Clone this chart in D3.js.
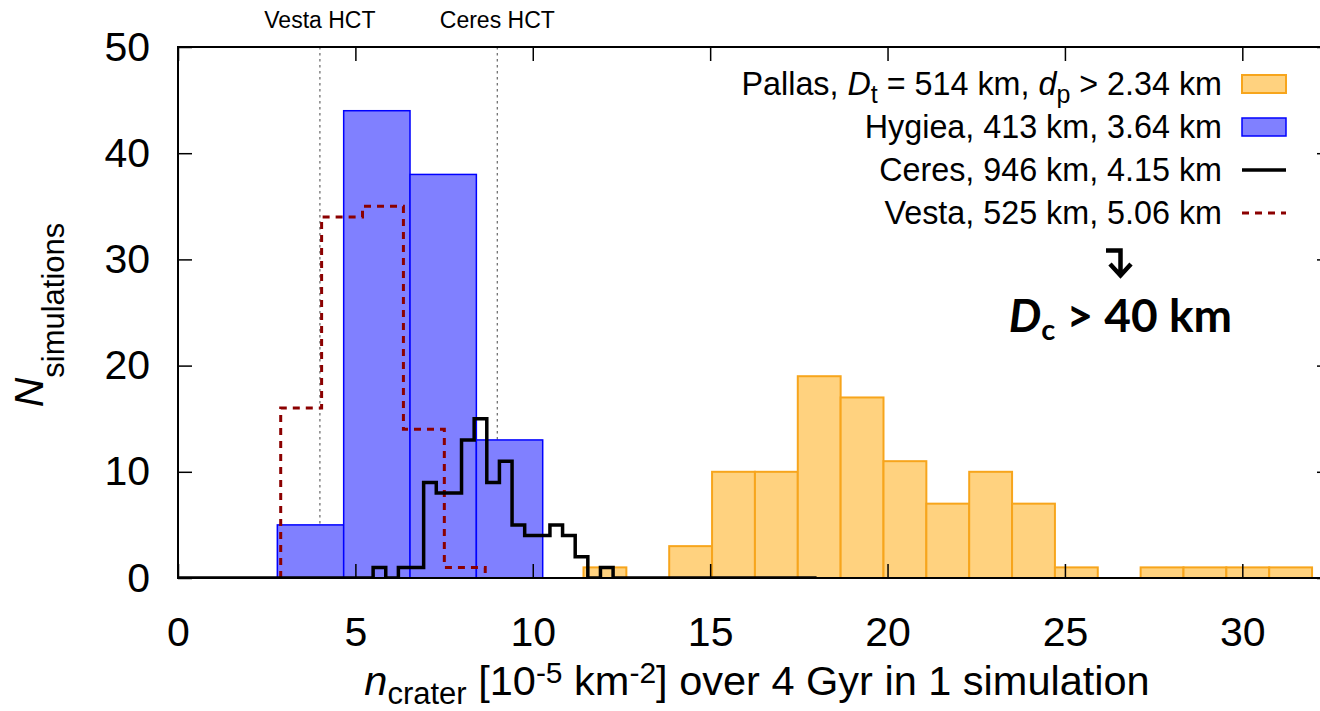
<!DOCTYPE html>
<html>
<head>
<meta charset="utf-8">
<script src="https://cdn.jsdelivr.net/npm/d3@7"></script>
<style>
  html, body { margin: 0; padding: 0; background: #fff; }
  svg { display: block; }
  text { font-family: "Liberation Sans", Arial, Helvetica, sans-serif; fill: #000; }
  text.note { font-family: Lato, "Open Sans", sans-serif; font-weight: bold; }
</style>
</head>
<body>
<svg id="chart" width="1320" height="711"></svg>
<script>
// Axis ticks
const xTicks = [0, 5, 10, 15, 20, 25, 30];
const yTicks = [0, 10, 20, 30, 40, 50];

// Pallas histogram (filled orange bars)
const pallasStart = 11.43;
const pallasWidth = 1.208;
const pallasCounts = [1, 0, 3, 10, 10, 19, 17, 11, 7, 10, 7, 1, 0, 1, 1, 1, 1];

// Hygiea histogram (filled blue bars)
const hygieaStart = 2.80;
const hygieaWidth = 1.87;
const hygieaCounts = [5, 44, 38, 13];

// Ceres histogram (black steps)
const ceresStart = 5.50;
const ceresWidth = 0.356;
const ceresCounts = [1, 0, 1, 1, 9, 8, 8, 13, 15, 9, 11, 5, 4, 4, 5, 4, 2, 0, 1];
const ceresSpan = [0, 18];

// Vesta histogram (dashed dark-red steps)
const vestaStart = 2.895;
const vestaWidth = 1.153;
const vestaCounts = [16, 34, 35, 14, 1];

// Heavily cratered terrain reference levels
const hctLabels = ["Vesta HCT", "Ceres HCT"];
const hctValues = [4.0, 9.0];

const svg = d3.select("#chart");
const margin = { left: 178, right: 1331, top: 47, bottom: 578 };

const x = d3.scaleLinear().domain([0, 32.5]).range([margin.left, margin.right]);
const y = d3.scaleLinear().domain([0, 50]).range([margin.bottom, margin.top]);

svg.append("defs").append("clipPath").attr("id", "plotclip")
  .append("rect")
  .attr("x", margin.left).attr("y", margin.top)
  .attr("width", margin.right - margin.left).attr("height", margin.bottom - margin.top);

const plot = svg.append("g").attr("clip-path", "url(#plotclip)");

// HCT reference lines (behind the bars)
plot.selectAll("line.hct").data(hctValues).enter().append("line")
  .attr("class", "hct")
  .attr("x1", d => x(d)).attr("x2", d => x(d))
  .attr("y1", y(50)).attr("y2", y(0))
  .attr("stroke", "#666").attr("stroke-width", 1.2)
  .attr("stroke-dasharray", "2.5,3.5");

function bins(start, width, counts) {
  return counts.map((c, i) => ({ x0: start + i * width, x1: start + (i + 1) * width, n: c }));
}

// Pallas bars
plot.selectAll("rect.pallas").data(bins(pallasStart, pallasWidth, pallasCounts).filter(d => d.n > 0))
  .enter().append("rect").attr("class", "pallas")
  .attr("x", d => x(d.x0)).attr("width", d => x(d.x1) - x(d.x0))
  .attr("y", d => y(d.n)).attr("height", d => y(0) - y(d.n))
  .attr("fill", "#ffd27f").attr("stroke", "#f7a51c").attr("stroke-width", 2);

// Hygiea bars
plot.selectAll("rect.hygiea").data(bins(hygieaStart, hygieaWidth, hygieaCounts).filter(d => d.n > 0))
  .enter().append("rect").attr("class", "hygiea")
  .attr("x", d => x(d.x0)).attr("width", d => x(d.x1) - x(d.x0))
  .attr("y", d => y(d.n)).attr("height", d => y(0) - y(d.n))
  .attr("fill", "#8080ff").attr("stroke", "#0000ff").attr("stroke-width", 1.5);

const stepLine = d3.line().x(d => x(d[0])).y(d => y(d[1])).curve(d3.curveStepAfter);

// Vesta steps
const vestaPts = [[vestaStart, 0]];
vestaCounts.forEach((c, i) => vestaPts.push([vestaStart + i * vestaWidth, c]));
vestaPts.push([vestaStart + vestaCounts.length * vestaWidth, 0]);
plot.append("path").attr("d", stepLine(vestaPts))
  .attr("fill", "none").attr("stroke", "#8b0000").attr("stroke-width", 3)
  .attr("stroke-dasharray", "7,6");

// Ceres steps
const ceresPts = [[ceresSpan[0], 0]];
ceresCounts.forEach((c, i) => ceresPts.push([ceresStart + i * ceresWidth, c]));
ceresPts.push([ceresStart + ceresCounts.length * ceresWidth, 0]);
ceresPts.push([ceresSpan[1], 0]);
plot.append("path").attr("d", stepLine(ceresPts))
  .attr("fill", "none").attr("stroke", "#000").attr("stroke-width", 3.5)
  .attr("stroke-linejoin", "miter");

// Frame
svg.append("rect")
  .attr("x", margin.left).attr("y", margin.top)
  .attr("width", margin.right - margin.left).attr("height", margin.bottom - margin.top)
  .attr("fill", "none").attr("stroke", "#000").attr("stroke-width", 2);

// Inward ticks on all four sides
const tickLen = 14;
const axB = svg.append("g").attr("transform", `translate(0,${margin.bottom})`)
  .call(d3.axisBottom(x).tickValues(xTicks).tickSizeInner(-tickLen).tickSizeOuter(0));
const axT = svg.append("g").attr("transform", `translate(0,${margin.top})`)
  .call(d3.axisTop(x).tickValues(xTicks).tickSizeInner(-tickLen).tickSizeOuter(0).tickFormat(""));
const axL = svg.append("g").attr("transform", `translate(${margin.left},0)`)
  .call(d3.axisLeft(y).tickValues(yTicks).tickSizeInner(-tickLen).tickSizeOuter(0).tickPadding(tickLen + 14));
const axR = svg.append("g").attr("transform", `translate(${margin.right},0)`)
  .call(d3.axisRight(y).tickValues(yTicks).tickSizeInner(-tickLen).tickSizeOuter(0).tickFormat(""));
[axB, axT, axL, axR].forEach(g => {
  g.select(".domain").remove();
  g.selectAll(".tick line").attr("stroke", "#000").attr("stroke-width", 1.5);
  g.selectAll("text").style("font-family", "'Liberation Sans', Arial, sans-serif").attr("font-size", 41).attr("fill", "#000");
});
axB.selectAll("text").attr("dy", 0).attr("y", 68);

// HCT labels above the frame
svg.selectAll("text.hctlab").data(hctValues).enter().append("text")
  .attr("class", "hctlab")
  .attr("x", d => x(d)).attr("y", 28)
  .attr("text-anchor", "middle").attr("font-size", 23)
  .text((d, i) => hctLabels[i]);

// Axis titles
const xt = svg.append("text").attr("x", 757).attr("y", 695)
  .attr("text-anchor", "middle").attr("font-size", 41.5);
xt.append("tspan").attr("font-style", "italic").text("n");
xt.append("tspan").attr("font-size", 31).attr("dy", 9).text("crater");
xt.append("tspan").attr("dy", -9).text(" [10");
xt.append("tspan").attr("font-size", 30).attr("dy", -12).text("-5");
xt.append("tspan").attr("dy", 12).text(" km");
xt.append("tspan").attr("font-size", 30).attr("dy", -12).text("-2");
xt.append("tspan").attr("dy", 12).text("] over 4 Gyr in 1 simulation");

const yt = svg.append("text").attr("transform", "translate(43,315) rotate(-90)")
  .attr("text-anchor", "middle").attr("font-size", 41);
yt.append("tspan").attr("font-style", "italic").text("N");
yt.append("tspan").attr("font-size", 31).attr("dy", 21).text("simulations");

// Legend
const legendNames = ["Pallas", "Hygiea", "Ceres", "Vesta"];
const legendY = [95, 138, 181, 224];
const lx = 1222, sx0 = 1242, sx1 = 1286;
const legFont = 32.3, subFont = 25;

const l0 = svg.append("text").attr("x", lx).attr("y", legendY[0]).attr("text-anchor", "end").attr("font-size", legFont);
l0.append("tspan").text(legendNames[0] + ", ");
l0.append("tspan").attr("font-style", "italic").text("D");
l0.append("tspan").attr("font-size", subFont).attr("dy", 8).text("t");
l0.append("tspan").attr("dy", -8).text(" = 514 km, ");
l0.append("tspan").attr("font-style", "italic").text("d");
l0.append("tspan").attr("font-size", subFont).attr("dy", 8).text("p");
l0.append("tspan").attr("dy", -8).text(" > 2.34 km");

svg.append("text").attr("x", lx).attr("y", legendY[1]).attr("text-anchor", "end").attr("font-size", legFont)
  .text(legendNames[1] + ", 413 km, 3.64 km");
svg.append("text").attr("x", lx).attr("y", legendY[2]).attr("text-anchor", "end").attr("font-size", legFont)
  .text(legendNames[2] + ", 946 km, 4.15 km");
svg.append("text").attr("x", lx).attr("y", legendY[3]).attr("text-anchor", "end").attr("font-size", legFont)
  .text(legendNames[3] + ", 525 km, 5.06 km");

svg.append("rect").attr("x", sx0).attr("y", legendY[0] - 20).attr("width", sx1 - sx0).attr("height", 18)
  .attr("fill", "#ffd27f").attr("stroke", "#f7a51c").attr("stroke-width", 2);
svg.append("rect").attr("x", sx0).attr("y", legendY[1] - 20).attr("width", sx1 - sx0).attr("height", 18)
  .attr("fill", "#8080ff").attr("stroke", "#0000ff").attr("stroke-width", 1.5);
svg.append("line").attr("x1", sx0).attr("x2", sx1).attr("y1", legendY[2] - 11).attr("y2", legendY[2] - 11)
  .attr("stroke", "#000").attr("stroke-width", 3.5);
svg.append("line").attr("x1", sx0).attr("x2", sx1).attr("y1", legendY[3] - 11).attr("y2", legendY[3] - 11)
  .attr("stroke", "#8b0000").attr("stroke-width", 3).attr("stroke-dasharray", "7,6");

// Crater-size note with corner arrow
svg.append("path")
  .attr("d", "M1106,250.5 H1120.5 V273 M1110,264 L1120.5,275.5 L1131,264")
  .attr("fill", "none").attr("stroke", "#000").attr("stroke-width", 4.5)
  .attr("stroke-linejoin", "miter").attr("stroke-linecap", "butt");

const dc = svg.append("text").attr("class", "note").attr("x", 1232).attr("y", 332)
  .attr("text-anchor", "end").attr("font-size", 46);
dc.append("tspan").attr("font-style", "italic").text("D");
dc.append("tspan").attr("font-size", 29).attr("dy", 8).text("c");
dc.append("tspan").attr("dy", -8).text(" > 40 km");
</script>
</body>
</html>
